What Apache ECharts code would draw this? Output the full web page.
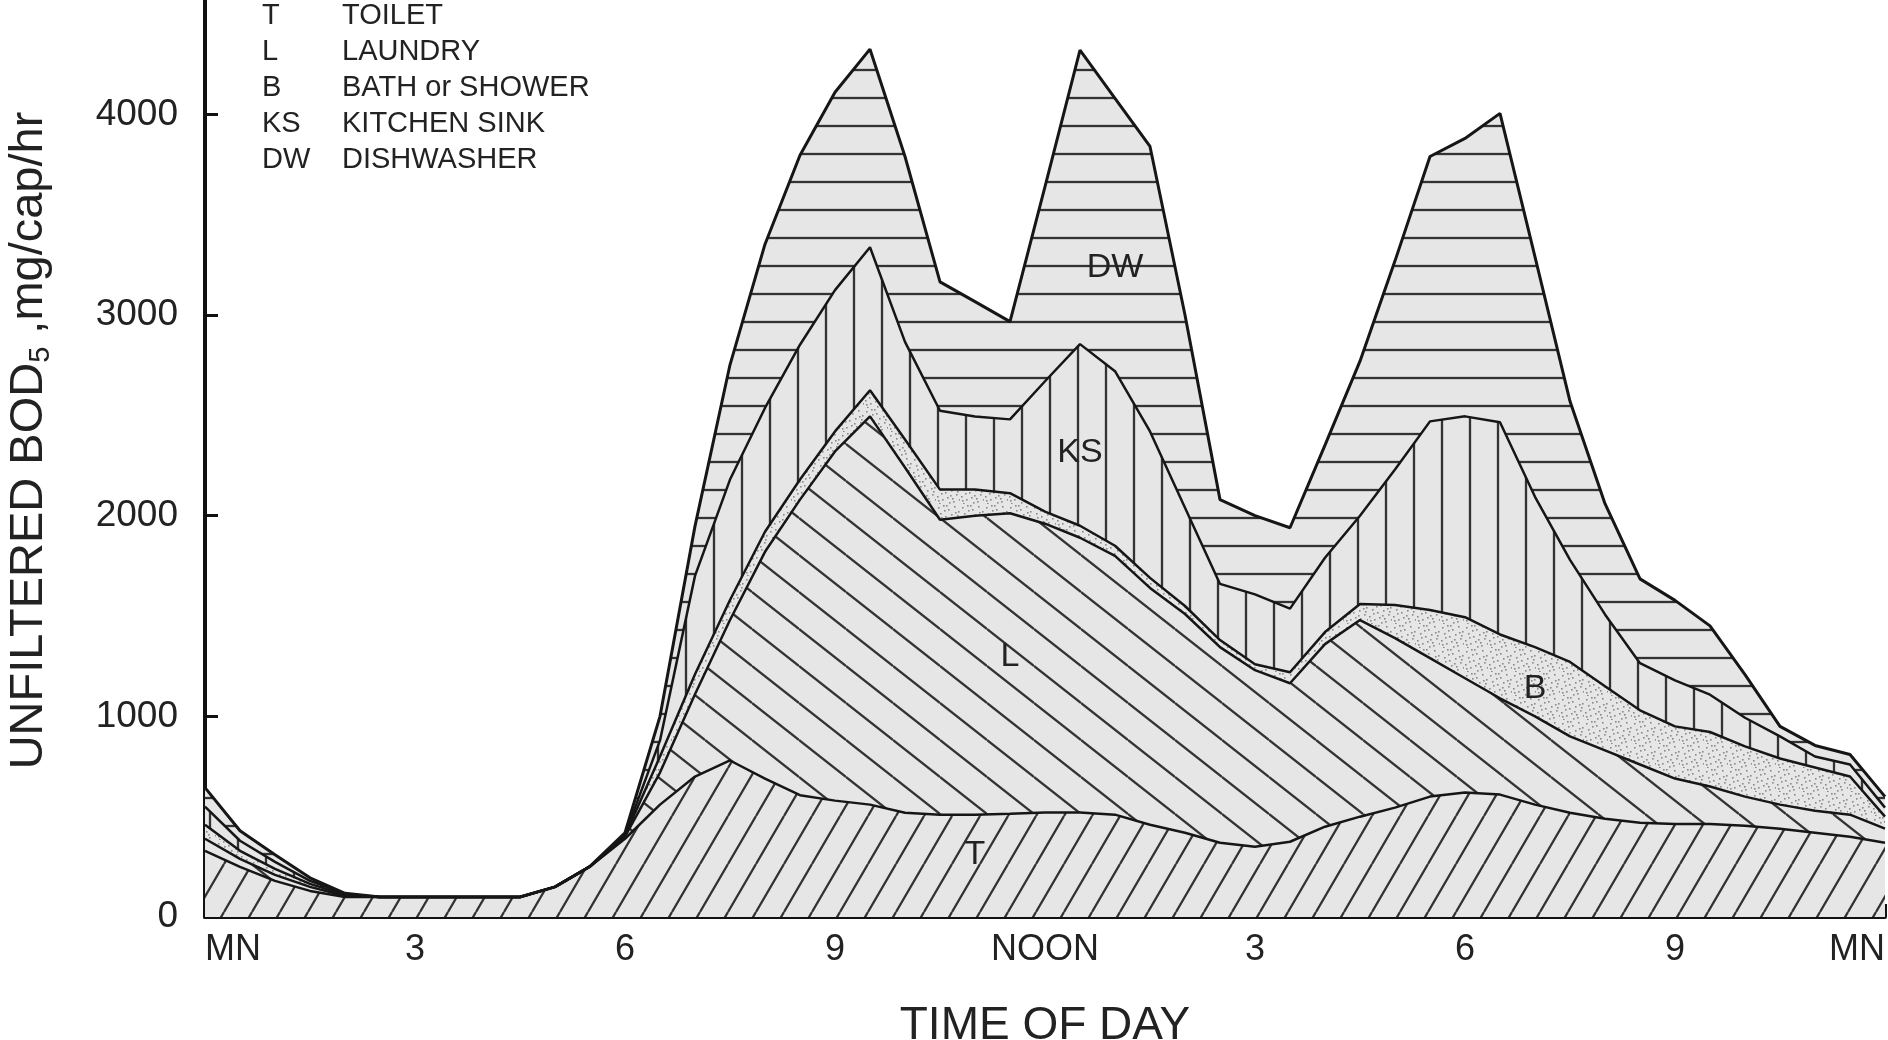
<!DOCTYPE html>
<html>
<head>
<meta charset="utf-8">
<title>Unfiltered BOD5 by time of day</title>
<script src="https://cdn.jsdelivr.net/npm/echarts@6/dist/echarts.min.js"></script>
<style>
  html, body { margin: 0; padding: 0; background: #fff; }
  #main { width: 1888px; height: 1040px; }
</style>
</head>
<body>
<div id="main"></div>
<script>
// half-hour steps, midnight to midnight
var hours = ['0','0.5','1','1.5','2','2.5','3','3.5','4','4.5','5','5.5','6','6.5','7','7.5','8','8.5',
  '9','9.5','10','10.5','11','11.5','12','12.5','13','13.5','14','14.5','15','15.5','16','16.5',
  '17','17.5','18','18.5','19','19.5','20','20.5','21','21.5','22','22.5','23','23.5','24'];
var tickLabels = ['MN', '3', '6', '9', 'NOON', '3', '6', '9', 'MN'];
var yTicks = [0, 1000, 2000, 3000, 4000];

// mg/cap/hr contributed by each source (stacked bottom to top)
var toilet = [330,250,180,130,100,100,100,100,100,100,150,252,390,560,700,780,690,607,580,560,520,510,510,515,521,
  521,510,460,420,370,350,375,450,500,545,600,621,610,560,520,490,470,464,464,455,440,420,400,370];
var laundry = [60,40,30,20,5,0,0,0,0,0,0,0,10,160,410,700,1130,1473,1740,1935,1720,1470,1490,1497,1439,
  1369,1290,1180,1090,975,880,790,910,980,845,690,569,480,440,380,340,290,226,186,145,120,110,110,70];
var bath = [70,40,30,15,5,0,0,0,0,0,0,0,5,80,100,100,100,100,100,130,140,150,130,100,60,
  60,50,50,40,35,30,55,60,80,165,240,304,318,345,371,320,270,260,272,250,230,215,190,60];
var kitchen = [90,50,35,15,5,0,0,0,0,0,0,0,5,80,490,600,617,672,704,713,486,393,364,368,650,
  905,870,730,490,280,348,317,370,440,675,940,1001,1058,749,509,358,235,229,186,143,110,55,60,45];
var dishwasher = [95,50,35,15,3,0,0,0,0,0,0,0,10,120,248,572,816,944,986,987,924,642,573,487,970,
  1465,1360,1420,960,420,392,403,562,770,1040,1320,1385,1539,1196,790,552,420,399,343,215,50,55,50,55];

var codes = ['T', 'L', 'B', 'KS', 'DW'];
var fullNames = { T: 'TOILET', L: 'LAUNDRY', B: 'BATH or SHOWER', KS: 'KITCHEN SINK', DW: 'DISHWASHER' };
// where the code letters sit inside each band: [hour, mg/cap/hr]
var bandLabels = { T: ['11', 309], L: ['11.5', 1300], B: ['19', 1136], KS: ['12.5', 2316], DW: ['13', 3238] };

var FONT = '"Liberation Sans", Arial, sans-serif';
var INK = '#222';

// hatch tiles
function makeTile(w, h, draw) {
  var c = document.createElement('canvas');
  c.width = w; c.height = h;
  var ctx = c.getContext('2d');
  ctx.fillStyle = '#e6e6e6';
  ctx.fillRect(0, 0, w, h);
  ctx.strokeStyle = '#333';
  ctx.lineWidth = 2.3;
  ctx.beginPath();
  draw(ctx, w, h);
  return c;
}
var patT = makeTile(28, 48, function (ctx, w, h) {
  for (var k = -1; k <= 1; k++) { ctx.moveTo(k * w, h); ctx.lineTo(k * w + w, 0); }
  ctx.stroke();
});
var patL = makeTile(47, 37, function (ctx, w, h) {
  for (var k = -1; k <= 1; k++) { ctx.moveTo(0, k * h); ctx.lineTo(w, k * h + h); }
  ctx.stroke();
});
var patKS = makeTile(28, 28, function (ctx, w, h) {
  ctx.moveTo(14, 0); ctx.lineTo(14, h);
  ctx.stroke();
});
var patDW = makeTile(28, 28, function (ctx, w, h) {
  ctx.moveTo(0, 14); ctx.lineTo(w, 14);
  ctx.stroke();
});
var dots = [[2,3],[7,1],[12,5],[18,2],[22,7],[4,9],[9,12],[15,10],[20,14],[1,16],[6,19],[11,17],
  [17,21],[23,19],[3,23],[13,22],[8,6],[19,8],[14,15],[5,13],[10,1],[21,11],[16,18],[2,20]];
var patB = makeTile(24, 24, function (ctx) {
  ctx.fillStyle = '#8a8a8a';
  dots.forEach(function (d) { ctx.fillRect(d[0], d[1], 1.6, 1.6); });
});

var chart = echarts.init(document.getElementById('main'));

function layer(code, values, pattern, width) {
  return {
    name: code,
    type: 'line',
    stack: 'bod',
    data: values,
    symbol: 'none',
    silent: true,
    lineStyle: { color: '#161616', width: width },
    areaStyle: { color: { image: pattern, repeat: 'repeat' }, opacity: 1 },
    emphasis: { disabled: true },
    markPoint: {
      symbol: 'rect',
      symbolSize: 1,
      itemStyle: { color: 'rgba(0,0,0,0)' },
      label: { show: true, formatter: code, fontFamily: FONT, fontSize: 34, color: INK },
      data: [{ coord: bandLabels[code] }]
    }
  };
}

var option = {
  animation: false,
  backgroundColor: '#fff',
  textStyle: { fontFamily: FONT },
  grid: { left: 205, right: 3, top: 0, bottom: 123, outerBoundsMode: 'none' },
  legend: {
    data: codes,
    orient: 'vertical',
    left: 257,
    top: 1,
    padding: 0,
    itemWidth: 0,
    itemHeight: 0,
    itemGap: 7,
    selectedMode: false,
    icon: 'rect',
    formatter: function (n) { return '{a|' + n + '}{b|' + fullNames[n] + '}'; },
    textStyle: {
      color: INK, fontSize: 29, fontFamily: FONT,
      rich: { a: { width: 80, fontSize: 29, color: INK }, b: { fontSize: 29, color: INK } }
    }
  },
  xAxis: {
    type: 'category',
    data: hours,
    boundaryGap: false,
    name: 'TIME OF DAY',
    nameLocation: 'middle',
    nameGap: 86,
    nameTextStyle: { fontSize: 46, color: INK, fontFamily: FONT },
    axisLine: { lineStyle: { color: '#111', width: 4 } },
    axisTick: { inside: true, length: 13, interval: 5, lineStyle: { color: '#111', width: 3 } },
    axisLabel: {
      interval: 5, fontSize: 36, color: INK, margin: 15, fontFamily: FONT,
      alignMinLabel: 'left', alignMaxLabel: 'right',
      formatter: function (v, i) { return i % 6 === 0 ? tickLabels[i / 6] : ''; }
    },
    splitLine: { show: false }
  },
  yAxis: {
    type: 'value',
    min: 0,
    max: 4570,
    interval: 1000,
    name: 'UNFILTERED BOD{sub|5} ,mg/cap/hr',
    nameLocation: 'middle',
    nameRotate: 90,
    nameGap: 150,
    nameMoveOverlap: false,
    nameTextStyle: {
      fontSize: 47, color: INK, fontFamily: FONT,
      padding: [0, 0, 0, 36],
      rich: { sub: { fontSize: 29, color: INK, padding: [22, 0, 0, 0] } }
    },
    axisLine: { show: true, lineStyle: { color: '#111', width: 4 } },
    axisTick: {
      show: true, inside: true, length: 13, lineStyle: { color: '#111', width: 3 },
      customValues: yTicks
    },
    axisLabel: {
      fontSize: 37, color: INK, margin: 27, fontFamily: FONT,
      customValues: yTicks,
      formatter: function (v) { return String(v); }
    },
    splitLine: { show: false }
  },
  series: [
    layer('T', toilet, patT, 2.5),
    layer('L', laundry, patL, 2.5),
    layer('B', bath, patB, 2.5),
    layer('KS', kitchen, patKS, 2.5),
    layer('DW', dishwasher, patDW, 3)
  ]
};

chart.setOption(option);
</script>
</body>
</html>
